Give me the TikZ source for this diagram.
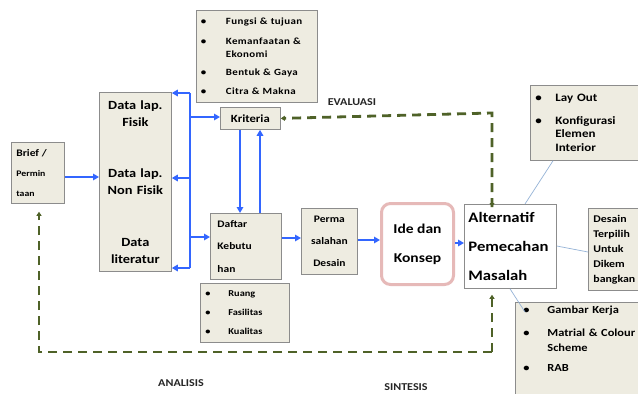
\documentclass[tikz,border=0pt]{standalone}
\usepackage{fontspec}
\setmainfont{Carlito}[FakeStretch=1.15]
\usetikzlibrary{arrows.meta,shadows}
\definecolor{boxfill}{HTML}{EEECE1}
\definecolor{boxdraw}{HTML}{8C8C8C}
\definecolor{flowblue}{HTML}{3366FF}
\definecolor{loopgreen}{HTML}{4F6228}
\definecolor{linkblue}{HTML}{95B3D7}
\definecolor{ideapink}{HTML}{E6B9B8}
\newcommand{\fsz}[2]{\fontsize{#1}{#2}\selectfont}
\newcommand{\bul}[1]{\makebox[#1][l]{\textbullet}}
\newcommand{\spaced}{\addfontfeature{LetterSpace=4}}
\begin{document}
\begin{tikzpicture}[x=1pt,y=-1pt,
  panel/.style={draw=boxdraw, fill=boxfill, line width=0.8pt, inner sep=0pt,
    anchor=north west, font=\bfseries,
    drop shadow={shadow xshift=1pt,shadow yshift=-1pt,opacity=0.25}},
  flow/.style={draw=flowblue, line width=2.4pt,
    -{Triangle[length=6pt,width=6.5pt]}},
  flowline/.style={draw=flowblue, line width=2.4pt},
  loop/.style={draw=loopgreen, line width=2.8pt, dash pattern=on 9pt off 6pt},
  loophead/.style={-{Triangle[length=4pt,width=5pt]}},
  link/.style={draw=linkblue, line width=0.7pt},
  caption/.style={font=\bfseries\fsz{10.5}{12}, text=black!85}]

\fill[white] (0,0) rectangle (638,394);
\useasboundingbox (0,0) rectangle (638,394);

% left column
\node[panel, minimum width=53pt, minimum height=61pt, text width=43pt,
  align=left, font=\bfseries\fsz{8.5}{20}] (brief) at (11,142)
  {{\fsz{10}{20}Brief /}\\Permin\\taan};
\node[panel, minimum width=72pt, minimum height=179pt, text width=66pt,
  align=center, font=\bfseries\fsz{12.5}{17}] (data) at (99,92)
  {Data lap.\\Fisik\\[34pt]Data lap.\\Non Fisik\\[35pt]Data\\literatur};

% criteria and needs
\node[panel, minimum width=121pt, minimum height=92pt, text width=112pt,
  align=left, font=\bfseries\fsz{9.5}{13}\spaced] (aspects) at (196,10)
  {\bul{25pt}Fungsi \& tujuan\\[7pt]
   \bul{25pt}Kemanfaatan \&\\
   \hspace*{25pt}Ekonomi\\[5pt]
   \bul{25pt}Bentuk \& Gaya\\[6pt]
   \bul{25pt}Citra \& Makna};
\node[panel, minimum width=60pt, minimum height=22pt,
  font=\bfseries\fsz{11}{12}] (kriteria) at (220,107) {Kriteria};
\node[panel, minimum width=71pt, minimum height=66pt, text width=57pt,
  align=left, font=\bfseries\fsz{10}{22.5}] (daftar) at (210,213)
  {Daftar\\Kebutu\\han};
\node[panel, minimum width=89pt, minimum height=59pt, text width=79pt,
  align=left, font=\bfseries\fsz{9}{19}] (needs) at (200,283)
  {\bul{23pt}Ruang\\\bul{23pt}Fasilitas\\\bul{23pt}Kualitas};
\node[panel, minimum width=56pt, minimum height=66pt, align=center,
  font=\bfseries\fsz{10}{22}] (perma) at (301,208)
  {Perma\\salahan\\Desain};

% synthesis
\node[draw=ideapink, line width=3pt, fill=white, rounded corners=9pt,
  anchor=north west, minimum width=72pt, minimum height=81pt, inner sep=0pt,
  align=center, font=\bfseries\fsz{13.5}{29}] (ide) at (380,202)
  {Ide dan\\Konsep};
\node[draw=boxdraw, fill=white, line width=0.8pt, anchor=north west,
  minimum width=92pt, minimum height=84pt, text width=84pt, inner sep=0pt,
  align=left, font=\bfseries\fsz{14.5}{29},
  drop shadow={shadow xshift=1pt,shadow yshift=-1pt,opacity=0.25}] (alt)
  at (464,204) {Alternatif\\Pemecahan\\Masalah};

% right column
\node[panel, minimum width=115pt, minimum height=75pt, text width=105pt,
  align=left, font=\bfseries\fsz{11.3}{13.5}] (layout) at (530,85)
  {\bul{20pt}Lay Out\\[9pt]
   \bul{20pt}Konfigurasi\\
   \hspace*{20pt}Elemen\\
   \hspace*{20pt}Interior};
\node[panel, minimum width=60pt, minimum height=82pt, text width=50pt,
  align=left, font=\bfseries\fsz{10.3}{15}] (desain) at (588,208)
  {Desain\\Terpilih\\Untuk\\Dikem\\bangkan};
\node[panel, inner xsep=8pt, minimum height=100pt, text width=125pt,
  align=left, font=\bfseries\fsz{10.8}{15}] (gambar) at (515,302)
  {\bul{24pt}Gambar Kerja\\[8pt]
   \bul{24pt}Matrial \& Colour\\
   \hspace*{24pt}Scheme\\[5pt]
   \bul{24pt}RAB\\[12pt]\mbox{}};

% stage captions
\node[caption] (evaluasi) at (352,102) {EVALUASI};
\node[caption] (analisis) at (181,383) {ANALISIS};
\node[caption] (sintesis) at (406,387) {SINTESIS};

% blue flow of analysis
\coordinate (spinetop) at (190,93);
\coordinate (spinebot) at (190,268);
\draw[flow] (brief.east |- 0,177) -- (data.west |- 0,177);
\draw[flowline] (spinetop) -- (spinebot);
\draw[flow] (spinetop) -- (spinetop -| data.east);
\draw[flow] (spinetop |- 0,178) -- (data.east |- 0,178);
\draw[flow] (spinebot) -- (spinebot -| data.east);
\draw[flow] (spinetop |- 0,117) -- (kriteria.west |- 0,117);
\draw[flow] (spinetop |- 0,237) -- (daftar.west |- 0,237);
\draw[flow] (kriteria.south -| 240,0) -- (daftar.north -| 240,0);
\draw[flow] (daftar.north -| 260,0) -- (kriteria.south -| 260,0);
\draw[flow] (daftar.east |- 0,238) -- (perma.west |- 0,238);
\draw[flow] (perma.east |- 0,240) -- (ide.west |- 0,240);
\draw[flow] (ide.east |- 0,243) -- (alt.west |- 0,243);

% thin links to the outcomes
\draw[link] (alt.north -| 525,0) -- (layout.south -| 553,0);
\draw[link] (alt.east |- 0,246) -- (desain.west |- 0,252);
\draw[link] (alt.south -| 510,0) -- ([xshift=10pt,yshift=-10pt]gambar.north west);

% green feedback loops
\coordinate (evcorner) at (492,113);
\coordinate (loopR) at (492,352);
\coordinate (loopL) at (39,352);
\draw[loop, loophead] ([yshift=-3pt]alt.north -| evcorner) -- (evcorner)
  -- (kriteria.east);
\draw[loop, loophead] (loopR) -- ([yshift=-6pt]alt.south -| loopR);
\draw[loop] (perma.south -| 327,0) -- (perma.south -| 327,0 |- loopR);
\draw[loop, loophead] (loopR) -- (loopL) -- ([yshift=-8pt]brief.south -| loopL);
\fill[loopgreen] ([yshift=-3pt]alt.north -| evcorner) -- ++(-2.5,-4) -- ++(5,0) -- cycle;
\end{tikzpicture}
\end{document}
